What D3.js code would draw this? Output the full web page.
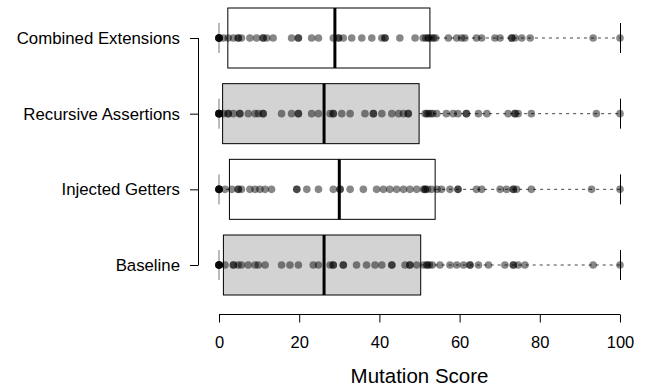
<!DOCTYPE html>
<html>
<head>
<meta charset="utf-8">
<script src="https://cdn.jsdelivr.net/npm/d3@7"></script>
<style>
  body { margin: 0; background: #fff; }
  text { font-family: "Liberation Sans", Arial, sans-serif; fill: #000; }
</style>
</head>
<body>
<div id="chart"></div>
<script>
// categories, top to bottom
const categories = ['Combined Extensions', 'Recursive Assertions', 'Injected Getters', 'Baseline'];

// box statistics
const lowerWhisker = [0, 0, 0, 0];
const q1 = [2.2, 0.9, 2.6, 1.1];
const median = [28.9, 26.2, 30.0, 26.2];
const q3 = [52.6, 49.9, 53.9, 50.3];
const upperWhisker = [100, 100, 100, 100];
const boxFill = ['#ffffff', '#d3d3d3', '#ffffff', '#d3d3d3'];

// individual mutation scores (estimated)
const combinedScores = [0, 0, 0, 0, 0, 1.1, 2.3, 3.6, 4.8, 4.8, 5.6, 7.7, 9.4, 11.0, 11.0, 11.9, 13.5, 18.1, 19.8, 19.8,
  23.1, 24.8, 28.5, 29.8, 29.8, 31.0, 33.1, 35.6, 38.1, 40.6, 41.4, 41.4, 45.1, 48.9, 50.9, 51.5, 52.2, 52.2, 53.0, 53.5,
  54.0, 57.2, 59.3, 60.5, 61.3, 64.2, 65.5, 68.8, 70.1, 73.0, 73.0, 73.8, 75.5, 77.6, 93.3, 100];
const recursiveScores = [0, 0, 0, 0, 0, 1.1, 2.3, 2.3, 3.6, 5.2, 5.2, 7.3, 9.0, 9.8, 11.0, 11.0, 15.6, 18.1, 19.8, 19.8,
  23.1, 24.8, 27.7, 28.5, 28.5, 30.6, 32.7, 36.4, 38.5, 38.5, 40.6, 43.1, 44.8, 46.0, 47.2, 47.2, 51.8, 51.4, 52.2, 52.8,
  53.3, 54.3, 56.7, 58.4, 59.6, 61.7, 61.7, 64.7, 66.8, 72.1, 73.8, 73.8, 74.6, 77.9, 94.1, 100];
const injectedScores = [0, 0, 0, 0, 0, 1.5, 3.2, 4.8, 4.8, 5.6, 7.7, 9.0, 10.2, 11.5, 13.1, 19.4, 19.4, 21.9, 24.8, 28.5,
  30.2, 30.2, 32.7, 36.0, 39.3, 41.0, 42.6, 44.3, 46.0, 47.6, 49.3, 51.4, 51.4, 51.0, 52.0, 53.0, 54.4, 55.5, 57.6, 59.6,
  59.6, 64.2, 65.5, 70.1, 71.7, 73.4, 73.4, 74.2, 77.9, 92.9, 100];
const baselineScores = [0, 0, 0, 0, 0, 1.5, 3.6, 3.6, 4.8, 5.6, 7.3, 9.0, 9.8, 11.5, 15.6, 17.7, 19.8, 23.5, 24.8, 27.7,
  28.5, 28.5, 31.0, 31.0, 34.3, 36.8, 38.9, 40.6, 43.1, 43.1, 46.4, 47.6, 47.6, 49.3, 51.8, 51.0, 52.0, 52.5, 53.2, 55.1,
  57.6, 59.3, 61.0, 62.6, 62.6, 64.7, 67.2, 71.3, 73.4, 73.4, 74.6, 76.3, 93.3, 100];
const scores = [combinedScores, recursiveScores, injectedScores, baselineScores];

const xTicks = [0, 20, 40, 60, 80, 100];

const width = 649, height = 391;
const boxHalf = 30, stapleHalf = 15;

const x = d3.scaleLinear().domain([0, 100]).range([219, 620]);
const y = d3.scalePoint().domain(categories).range([38, 265]);

const svg = d3.select('#chart').append('svg')
  .attr('width', width)
  .attr('height', height);

const rows = categories.map((c, i) => ({
  cat: c, lo: lowerWhisker[i], q1: q1[i], med: median[i], q3: q3[i], hi: upperWhisker[i],
  fill: boxFill[i], pts: scores[i]
}));

const g = svg.selectAll('g.row')
  .data(rows)
  .enter()
  .append('g')
  .attr('class', 'row');

// whiskers
g.append('line')
  .attr('x1', d => x(d.q3)).attr('x2', d => x(d.hi))
  .attr('y1', d => y(d.cat)).attr('y2', d => y(d.cat))
  .attr('stroke', '#444').attr('stroke-dasharray', '3,4');
g.append('line')
  .attr('x1', d => x(d.lo)).attr('x2', d => x(d.q1))
  .attr('y1', d => y(d.cat)).attr('y2', d => y(d.cat))
  .attr('stroke', '#444').attr('stroke-dasharray', '3,4');
// staples
g.append('line')
  .attr('x1', d => x(d.hi) + 0.5).attr('x2', d => x(d.hi) + 0.5)
  .attr('y1', d => y(d.cat) - stapleHalf).attr('y2', d => y(d.cat) + stapleHalf)
  .attr('stroke', '#000');
g.append('line')
  .attr('x1', d => x(d.lo)).attr('x2', d => x(d.lo))
  .attr('y1', d => y(d.cat) - stapleHalf).attr('y2', d => y(d.cat) + stapleHalf)
  .attr('stroke', '#777');

// boxes
g.append('rect')
  .attr('x', d => x(d.q1))
  .attr('y', d => y(d.cat) - boxHalf)
  .attr('width', d => x(d.q3) - x(d.q1))
  .attr('height', boxHalf * 2)
  .attr('fill', d => d.fill)
  .attr('stroke', '#000')
  .attr('stroke-width', 1);

// points
g.selectAll('circle')
  .data(d => d.pts.map(v => ({ v, cat: d.cat })))
  .enter()
  .append('circle')
  .attr('cx', d => x(d.v))
  .attr('cy', d => y(d.cat))
  .attr('r', 3.8)
  .attr('fill', 'rgba(0,0,0,0.47)');

// medians
g.append('line')
  .attr('x1', d => x(d.med)).attr('x2', d => x(d.med))
  .attr('y1', d => y(d.cat) - boxHalf).attr('y2', d => y(d.cat) + boxHalf)
  .attr('stroke', '#000').attr('stroke-width', 3);

// x axis
const xAxis = svg.append('g').attr('transform', 'translate(0,314.5)');
xAxis.append('line')
  .attr('x1', x(0)).attr('x2', x(100))
  .attr('stroke', '#000');
xAxis.selectAll('line.tick')
  .data(xTicks)
  .enter()
  .append('line')
  .attr('class', 'tick')
  .attr('x1', d => x(d) + 0.5).attr('x2', d => x(d) + 0.5)
  .attr('y1', 0).attr('y2', 8)
  .attr('stroke', '#000');
xAxis.selectAll('text')
  .data(xTicks)
  .enter()
  .append('text')
  .attr('x', d => x(d) + 0.5)
  .attr('y', 33)
  .attr('text-anchor', 'middle')
  .style('font-size', '16.5px')
  .text(d => d);

svg.append('text')
  .attr('x', (x(0) + x(100)) / 2)
  .attr('y', 383)
  .attr('text-anchor', 'middle')
  .style('font-size', '20.5px')
  .text('Mutation Score');

// y axis
const yAxis = svg.append('g');
yAxis.append('line')
  .attr('x1', 198.5).attr('x2', 198.5)
  .attr('y1', y(categories[0])).attr('y2', y(categories[3]))
  .attr('stroke', '#000');
yAxis.selectAll('line.tick')
  .data(categories)
  .enter()
  .append('line')
  .attr('class', 'tick')
  .attr('x1', 190).attr('x2', 198.5)
  .attr('y1', d => y(d) + 0.5).attr('y2', d => y(d) + 0.5)
  .attr('stroke', '#000');
yAxis.selectAll('text')
  .data(categories)
  .enter()
  .append('text')
  .attr('x', 180)
  .attr('y', d => y(d) + 6)
  .attr('text-anchor', 'end')
  .style('font-size', '16.8px')
  .text(d => d);
</script>
</body>
</html>
